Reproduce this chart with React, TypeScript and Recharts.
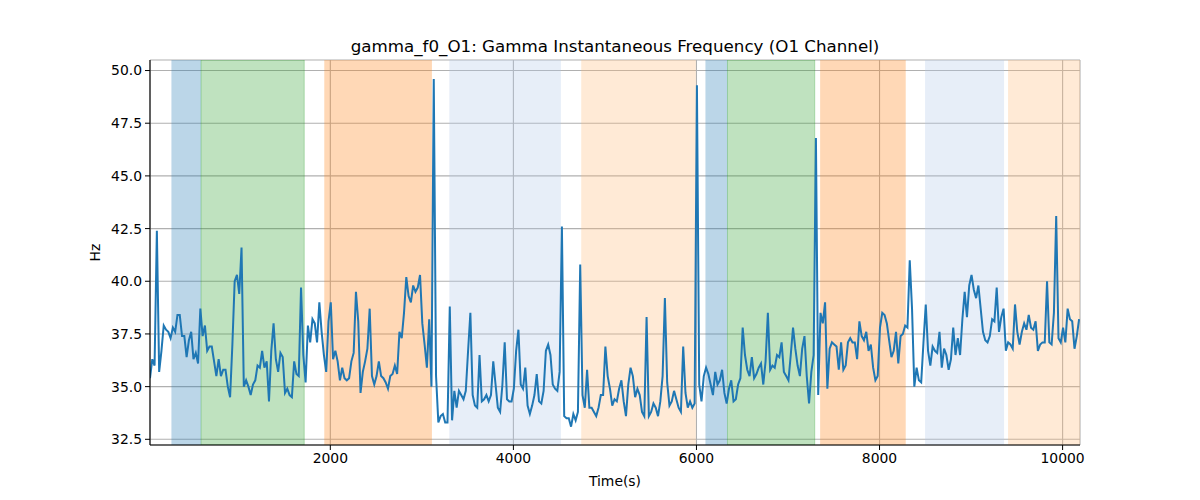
import { LineChart, Line, XAxis, YAxis, CartesianGrid, ReferenceArea } from 'recharts';

// sampling of the time axis (seconds)
const T0 = 30;
const STEP = 25;

const hz = [
  35.4, 36.3, 36.0, 42.4, 35.7, 36.7, 37.9, 37.7, 37.6, 37.3,
  37.8, 37.6, 38.4, 38.4, 37.4, 37.4, 36.4, 37.2, 37.6, 36.3,
  36.6, 36.1, 38.7, 37.4, 37.9, 36.7, 36.9, 36.9, 36.2, 35.5,
  36.3, 35.5, 35.8, 35.8, 35.0, 34.5, 37.0, 40.0, 40.3, 39.4,
  41.6, 35.0, 35.3, 35.0, 34.6, 35.1, 35.3, 36.0, 35.9, 36.7,
  35.9, 36.2, 34.3, 36.7, 38.0, 36.3, 35.7, 36.6, 36.4, 34.7,
  34.9, 34.6, 34.5, 36.2, 35.6, 35.5, 39.7, 36.5, 35.2, 37.9,
  37.1, 38.2, 38.0, 37.1, 39.0, 37.6, 36.5, 35.7, 38.1, 39.0,
  36.3, 36.7, 36.2, 35.3, 35.9, 35.4, 35.3, 35.4, 36.2, 36.6,
  39.5, 38.1, 34.7, 35.7, 36.2, 36.8, 38.7, 35.5, 35.1, 35.5,
  36.2, 35.5, 35.4, 35.2, 34.9, 35.5, 35.6, 36.0, 35.6, 37.6,
  37.3, 38.5, 40.2, 39.3, 39.0, 39.8, 39.5, 39.7, 40.3, 38.0,
  37.0, 35.9, 38.2, 35.0, 49.6, 35.5, 33.3, 33.6, 33.7, 33.3,
  33.3, 38.8, 33.4, 34.8, 34.0, 34.8, 34.6, 34.4, 34.8, 36.7,
  38.5, 34.6, 34.1, 34.0, 36.5, 34.3, 34.4, 34.6, 34.3, 34.6,
  36.2, 35.1, 34.0, 33.8, 35.1, 37.1, 34.4, 34.3, 34.3, 34.9,
  36.7, 37.7, 35.1, 34.9, 35.9, 34.1, 33.7, 34.1, 34.6, 35.6,
  34.3, 34.2, 34.8, 36.7, 37.0, 36.5, 35.1, 34.9, 34.8, 35.7,
  42.6, 33.6, 33.5, 33.5, 33.1, 33.7, 33.4, 33.8, 40.8, 34.6,
  34.0, 35.8, 34.0, 34.0, 33.8, 33.6, 34.0, 34.6, 34.6, 36.9,
  35.5, 34.9, 34.1, 34.4, 34.3, 34.9, 35.3, 34.3, 33.6, 35.1,
  35.9, 35.5, 34.5, 34.9, 34.6, 33.8, 33.6, 38.3, 33.6, 33.8,
  34.2, 34.0, 33.6, 34.3, 35.5, 39.2, 35.2, 34.1, 34.3, 34.8,
  34.4, 34.0, 33.8, 36.9, 34.7, 34.0, 34.3, 34.0, 34.2, 49.3,
  35.1, 34.3, 35.5, 35.9, 35.6, 35.1, 34.6, 35.7, 35.1, 35.3,
  35.8, 34.7, 34.2, 34.9, 35.3, 34.3, 34.4, 35.1, 35.4, 37.8,
  36.5, 35.8, 35.5, 36.4, 35.4, 35.6, 35.9, 36.1, 35.1, 36.2,
  38.5, 35.8, 36.0, 35.9, 36.5, 36.4, 37.1, 35.7, 35.5, 35.3,
  36.5, 37.8, 36.8, 36.0, 35.5, 36.8, 37.4, 35.5, 34.2, 35.7,
  36.5, 46.8, 34.6, 38.5, 38.0, 39.0, 34.9, 36.8, 37.1, 37.0,
  36.9, 35.8, 37.1, 35.8, 36.0, 37.1, 37.3, 37.1, 37.1, 36.3,
  38.1, 37.4, 37.2, 37.6, 36.7, 37.0, 35.9, 35.3, 35.5, 37.8,
  38.5, 38.4, 38.0, 37.2, 36.4, 36.7, 37.6, 36.1, 37.4, 37.5,
  37.9, 37.8, 41.0, 38.7, 35.0, 35.9, 35.3, 35.2, 37.1, 38.9,
  36.7, 36.0, 36.9, 36.7, 36.6, 37.6, 35.9, 36.8, 36.5, 35.8,
  36.3, 37.8, 36.5, 37.3, 36.5, 38.2, 39.5, 38.3, 39.8, 40.3,
  39.6, 39.2, 39.8, 38.7, 37.6, 37.2, 37.1, 37.4, 38.2, 38.1,
  39.7, 37.6, 38.3, 38.7, 36.7, 37.1, 37.0, 36.8, 38.9, 37.6,
  37.0, 37.6, 38.0, 37.7, 38.4, 37.8, 37.7, 38.1, 36.7, 37.0,
  37.1, 37.1, 40.0, 37.1, 37.0, 38.5, 43.1, 37.3, 37.1, 37.8,
  37.1, 38.7, 38.2, 38.1, 36.8, 37.4, 38.2,
];

// shaded stimulus periods
const bandStart = [264, 588, 1934, 3300, 4741, 6098, 6339, 7351, 8497, 9404];
const bandEnd = [588, 1715, 3110, 4519, 5993, 6339, 7292, 8286, 9360, 10190];
const bandKind = ['a', 'b', 'c', 'd', 'e', 'a', 'b', 'c', 'd', 'e'];

const xTicks = [2000, 4000, 6000, 8000, 10000];
const yTicks = [32.5, 35, 37.5, 40, 42.5, 45, 47.5, 50];

const kindColor: Record<string, string> = {
  a: '#1f77b4',
  b: '#2ca02c',
  c: '#ff7f0e',
  d: '#aec7e8',
  e: '#ffbb78',
};

const data = hz.map((v, i) => ({ t: T0 + i * STEP, hz: v }));

const font = '"DejaVu Sans", sans-serif';
const tickStyle = { fill: '#000', fontSize: 13.9, fontFamily: font };

export default function App() {
  return (
    <div style={{ position: 'absolute', left: 0, top: 0, width: 1200, height: 500, background: '#fff' }}>
      <div
        style={{
          position: 'absolute',
          left: 150,
          width: 930,
          top: 36,
          textAlign: 'center',
          fontFamily: font,
          fontSize: 16.7,
          color: '#000',
          lineHeight: '20px',
        }}
      >
        gamma_f0_O1: Gamma Instantaneous Frequency (O1 Channel)
      </div>
      <LineChart width={1200} height={500} data={data} margin={{ top: 60, right: 120, left: 0, bottom: 0 }}>
        {bandStart.map((s, i) => (
          <ReferenceArea
            key={i}
            x1={s}
            x2={bandEnd[i]}
            fill={kindColor[bandKind[i]]}
            fillOpacity={0.3}
            stroke={bandKind[i] === 'b' ? kindColor.b : 'none'}
            strokeOpacity={0.3}
            ifOverflow="hidden"
          />
        ))}
        <CartesianGrid stroke="#b0b0b0" strokeWidth={1.1} />
        <XAxis
          dataKey="t"
          type="number"
          domain={[30, 10190]}
          allowDataOverflow
          ticks={xTicks}
          height={55}
          tick={tickStyle}
          tickSize={5}
          tickMargin={3}
          tickLine={{ stroke: '#000' }}
          axisLine={{ stroke: '#000', strokeWidth: 1.1 }}
          label={{ value: 'Time(s)', position: 'insideBottom', offset: 14, fill: '#000', fontSize: 13.9, fontFamily: font }}
        />
        <XAxis
          xAxisId="top"
          orientation="top"
          dataKey="t"
          type="number"
          domain={[30, 10190]}
          allowDataOverflow
          height={0}
          tick={false}
          tickLine={false}
          axisLine={{ stroke: '#000', strokeWidth: 1.1 }}
        />
        <YAxis
          type="number"
          domain={[32.23, 50.5]}
          allowDataOverflow
          ticks={yTicks}
          width={150}
          tick={tickStyle}
          tickSize={5}
          tickMargin={3}
          tickFormatter={(v: number) => v.toFixed(1)}
          tickLine={{ stroke: '#000' }}
          axisLine={{ stroke: '#000', strokeWidth: 1.1 }}
          label={{ value: 'Hz', angle: -90, position: 'center', dx: 20, fill: '#000', fontSize: 13.9, fontFamily: font }}
        />
        <YAxis
          yAxisId="right"
          orientation="right"
          domain={[32.23, 50.5]}
          width={0}
          tick={false}
          tickLine={false}
          axisLine={{ stroke: '#000', strokeWidth: 1.1 }}
        />
        <Line
          type="linear"
          dataKey="hz"
          stroke="#1f77b4"
          strokeWidth={2}
          dot={false}
          isAnimationActive={false}
        />
      </LineChart>
    </div>
  );
}
